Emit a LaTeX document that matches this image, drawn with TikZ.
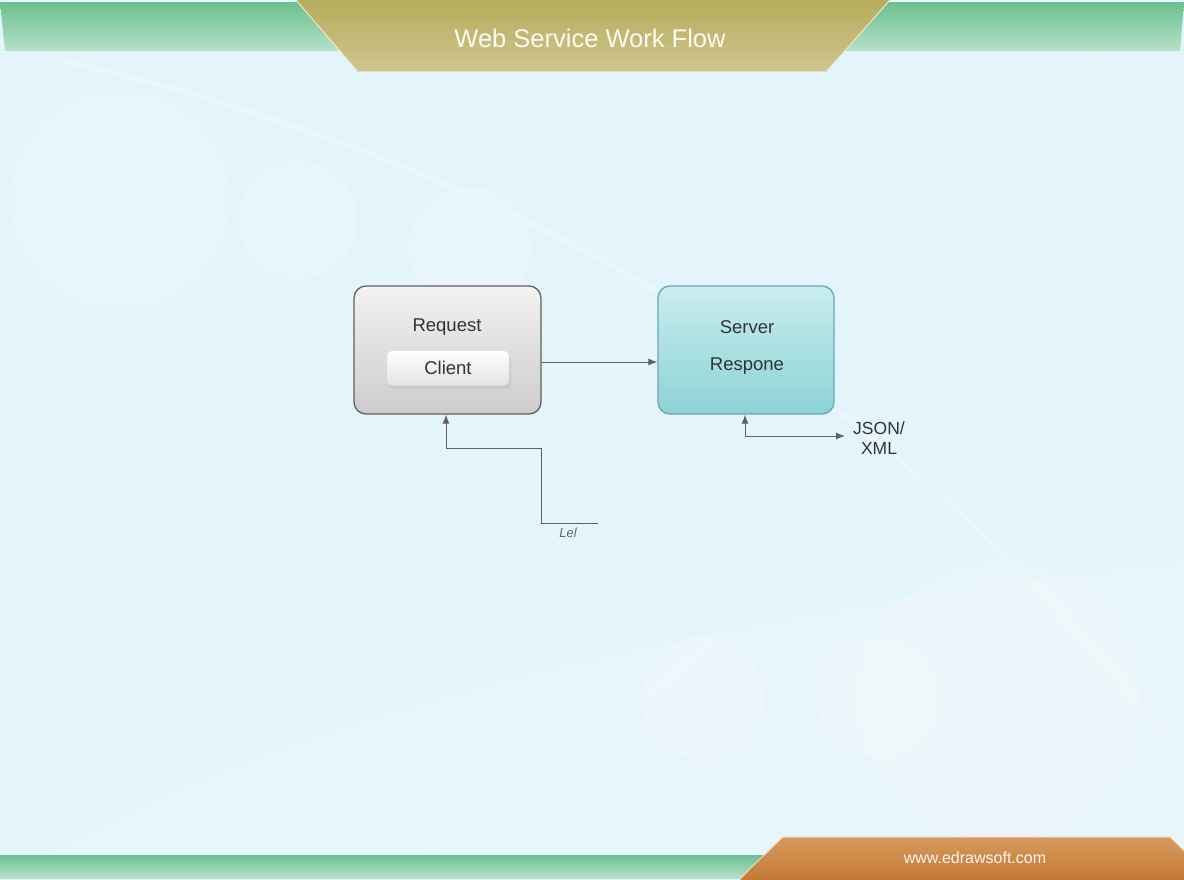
\documentclass[tikz,border=0pt]{standalone}
\usepackage{fontspec}
\setmainfont{Liberation Sans}
\usetikzlibrary{arrows.meta}
\definecolor{bgblue}{HTML}{E4F4FB}
\definecolor{greentop}{HTML}{6CBF8F}
\definecolor{greenbot}{HTML}{B4E2C8}
\definecolor{goldtop}{HTML}{B7AC5B}
\definecolor{goldbot}{HTML}{CEC68F}
\definecolor{orangetop}{HTML}{D49A5C}
\definecolor{orangebot}{HTML}{C67935}
\definecolor{linegray}{HTML}{606060}
\definecolor{textdark}{HTML}{333333}
\tikzset{
  px/.style={x=1pt,y=-1pt},
  reqbox/.style={draw=gray!75!black, line width=1.3pt, rounded corners=12pt, top color=gray!10, bottom color=gray!40, minimum width=187pt, minimum height=128pt, inner sep=0pt},
  srvbox/.style={draw=cyan!45!gray, line width=1.3pt, rounded corners=12pt, top color={rgb,255:red,202;green,238;blue,240}, bottom color={rgb,255:red,140;green,210;blue,212}, minimum width=176pt, minimum height=128pt, inner sep=0pt},
  btn/.style={rounded corners=5pt, top color=white, bottom color=gray!22, draw=gray!30, minimum width=122pt, minimum height=35pt, inner sep=0pt, font=\fontsize{18.5}{21}\selectfont, text=textdark},
  lbl/.style={font=\fontsize{18.5}{21}\selectfont, text=textdark, inner sep=0pt},
  conn/.style={draw=linegray, line width=1pt},
  tip/.style={-{Latex[length=9pt,width=7pt]}},
  bubble/.style={fill=white, fill opacity=0.18, draw=white, draw opacity=0.25, line width=1pt},
}
\begin{document}
\begin{tikzpicture}[px]
\useasboundingbox (0,0) rectangle (1184,880);
% background
\fill[bgblue] (0,0) rectangle (1184,880);
\fill[white, opacity=0.15] (0,880) .. controls (300,700) and (700,620) .. (1184,560) -- (1184,880) -- cycle;
\draw[white, opacity=0.2, line width=5pt] (60,60) .. controls (500,160) and (900,380) .. (1184,760);
\draw[white, opacity=0.15, line width=4pt] (1100,60) .. controls (1000,400) and (700,700) .. (380,880);
\path[bubble] (298,220) circle (58);
\path[bubble] (470,248) circle (60);
\path[bubble] (703,698) circle (60);
\path[bubble] (876,698) circle (58);
\fill[white, opacity=0.18] (1000,700) circle (140);
\fill[white, opacity=0.15] (120,200) circle (110);
% top band
\shade[top color=greentop, bottom color=greenbot] (0,2) -- (1184,2) -- (1180,51) -- (5,51) -- cycle;
\draw[white, opacity=0.6, line width=1pt] (0,2) -- (1184,2);
\shade[top color=goldtop, bottom color=goldbot] (296,0) -- (890,0) -- (826,72) -- (358,72) -- cycle;
\draw[white!60!goldbot, line width=1pt] (296,0) -- (358,72) -- (826,72) -- (890,0);
\node[font=\fontsize{25.5}{29}\selectfont, text=white!94!goldtop, inner sep=0pt] (title) at (590,38) {Web Service Work Flow};
% bottom band
\shade[top color=greentop, bottom color=greenbot] (0,855) -- (790,855) -- (790,878) -- (0,878) -- cycle;
\shade[top color=orangetop, bottom color=orangebot] (783,837) -- (1170,837) -- (1184,851) -- (1184,880) -- (740,880) -- cycle;
\draw[white!55!orangetop, line width=1pt] (740,878) -- (783,837) -- (1170,837) -- (1184,851);
\node[font=\fontsize{16}{19}\selectfont, text=white!92!orangetop, inner sep=0pt] (web) at (975,858) {www.edrawsoft.com};
% boxes
\node[reqbox] (req) at (447.5,350) {};
\node[lbl] (reqt) at (447,327) {Request};
\fill[gray!45, opacity=0.6, rounded corners=5pt] (389,355) rectangle (511,389);
\node[btn] (client) at (448,368) {Client};
\node[srvbox] (srv) at (746,350) {};
\node[lbl] (srvt) at (747,327) {Server};
\node[lbl] (resp) at (747,366) {Respone};
% connectors
\draw[conn, tip] (req.east |- 0,362) -- (srv.west |- 0,362);
\coordinate (foot) at (598,523);
\draw[conn, tip] (foot) -- (541,523) -- (541,448) -- (446,448) -- (req.south -| 446,0);
\node[font=\itshape\fontsize{13}{14}\selectfont, text=gray!80!black, inner sep=0pt] (lel) at (568,533) {Lel};
\node[align=center, font=\fontsize{17.5}{19.5}\selectfont, text=textdark, inner sep=0pt] (json) at (879,438) {JSON/\\XML};
\coordinate (jarr) at (845,436);
\draw[conn, {Latex[length=9pt,width=7pt]}-{Latex[length=9pt,width=7pt]}] (srv.south -| 745,0) -- (745,436) -- (jarr);
\end{tikzpicture}
\end{document}
